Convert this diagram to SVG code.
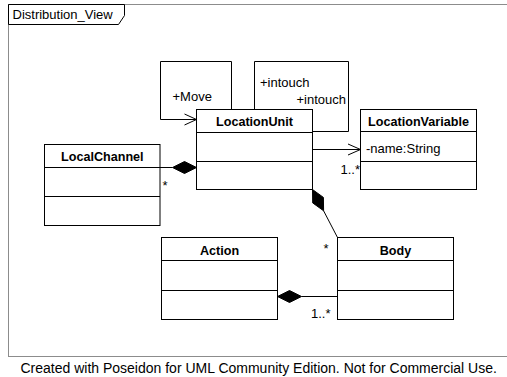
<svg xmlns="http://www.w3.org/2000/svg" width="507" height="377" viewBox="0 0 507 377">
<style>
  text { font-family: "Liberation Sans", Arial, Helvetica, sans-serif; font-size: 13px; fill: #000; }
  .title { font-weight: bold; font-size: 12.6px; text-anchor: middle; }
  .box { fill: #fff; stroke: #000; stroke-width: 1; }
  .sep { stroke: #000; stroke-width: 1; }
  .line { fill: none; stroke: #000; stroke-width: 1; }
  .dia { fill: #000; stroke: #000; stroke-width: 1; }
  .footer { font-size: 14px; text-anchor: middle; }
</style>
<rect width="507" height="377" fill="#fff"/>
<g id="frame">
  <rect x="8.5" y="4.5" width="510" height="352" fill="#fff" stroke="#8c8c8c" stroke-width="1"/>
  <polygon points="8.5,4.5 124.5,4.5 124.5,15.5 118.5,24.5 8.5,24.5" fill="#fff" stroke="#000" stroke-width="1"/>
  <text x="12.5" y="19">Distribution_View</text>
</g>
<g id="connectors">
  <!-- Move self association -->
  <path class="line" d="M231.5,109.5 V61.5 H160.5 V119.5 H196.5"/>
  <path class="line" d="M184.5,114 L196.5,119.5 L184.5,125"/>
  <text x="172.5" y="101">+Move</text>
  <!-- intouch self association -->
  <path class="line" d="M254.5,109.5 V61.5 H348.5 V131.5 H312.5"/>
  <text x="260" y="87">+intouch</text>
  <text x="346" y="103.5" text-anchor="end">+intouch</text>
  <!-- LocationUnit -> LocationVariable -->
  <path class="line" d="M312.5,149.5 H360.5"/>
  <path class="line" d="M348,144 L360.5,149.5 L348,155"/>
  <text x="360" y="173.5" text-anchor="end">1..*</text>
  <!-- LocalChannel - LocationUnit composition -->
  <path class="line" d="M160,167.5 H172.5"/>
  <polygon class="dia" points="172.5,167.5 184.5,161.5 196.5,167.5 184.5,173.5"/>
  <text x="162.5" y="189.5">*</text>
  <!-- LocationUnit - Body composition -->
  <polygon class="dia" points="312.5,189.5 323.4,197.4 323.6,210.8 312.7,202.9"/>
  <path class="line" d="M323.6,210.8 L337.5,237.5"/>
  <text x="323.5" y="253">*</text>
  <!-- Action - Body composition -->
  <polygon class="dia" points="277.5,296.5 289.5,290.5 301.5,296.5 289.5,302.5"/>
  <path class="line" d="M301.5,296.5 H337.5"/>
  <text x="330.5" y="318" text-anchor="end">1..*</text>
</g>
<g id="LocationUnit">
  <rect class="box" x="196.5" y="109.5" width="116" height="80"/>
  <line class="sep" x1="196.5" y1="132.5" x2="312.5" y2="132.5"/>
  <line class="sep" x1="196.5" y1="161.5" x2="312.5" y2="161.5"/>
  <text class="title" x="254.5" y="126">LocationUnit</text>
</g>
<g id="LocationVariable">
  <rect class="box" x="360.5" y="109.5" width="116" height="80"/>
  <line class="sep" x1="360.5" y1="131.5" x2="476.5" y2="131.5"/>
  <line class="sep" x1="360.5" y1="161.5" x2="476.5" y2="161.5"/>
  <text class="title" x="418.5" y="126">LocationVariable</text>
  <text x="366" y="152.5">-name:String</text>
</g>
<g id="LocalChannel">
  <rect class="box" x="44.5" y="144.5" width="115.5" height="81"/>
  <line class="sep" x1="44.5" y1="167.5" x2="160" y2="167.5"/>
  <line class="sep" x1="44.5" y1="196.5" x2="160" y2="196.5"/>
  <text class="title" x="102.3" y="160.5">LocalChannel</text>
</g>
<g id="Action">
  <rect class="box" x="161.5" y="237.5" width="116" height="82"/>
  <line class="sep" x1="161.5" y1="260.5" x2="277.5" y2="260.5"/>
  <line class="sep" x1="161.5" y1="290.5" x2="277.5" y2="290.5"/>
  <text class="title" x="219.5" y="255">Action</text>
</g>
<g id="Body">
  <rect class="box" x="337.5" y="237.5" width="116" height="82"/>
  <line class="sep" x1="337.5" y1="260.5" x2="453.5" y2="260.5"/>
  <line class="sep" x1="337.5" y1="290.5" x2="453.5" y2="290.5"/>
  <text class="title" x="395.5" y="255">Body</text>
</g>
<text class="footer" x="258.7" y="373">Created with Poseidon for UML Community Edition. Not for Commercial Use.</text>
</svg>
